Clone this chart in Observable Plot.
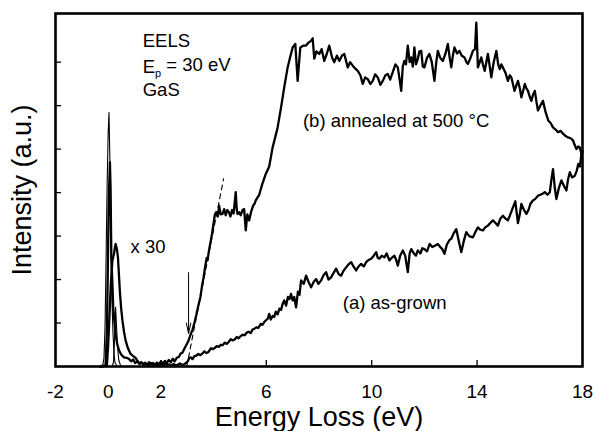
<!DOCTYPE html>
<html><head><meta charset="utf-8">
<script src="https://cdn.jsdelivr.net/npm/d3@7"></script>
<script src="https://cdn.jsdelivr.net/npm/@observablehq/plot@0.6"></script>
<style>body{margin:0;background:#fff}</style>
</head><body><div id="chart"></div>
<script>
// ---- data ----
const xTickLabels = [-2, 0, 2, 6, 10, 14, 18];
const xTickMarks = [2, 6, 10, 14];
const yTickMarks = [1, 2, 3, 4, 5, 6, 7];

// (b) annealed at 500 °C (low-energy part x30)
const annealedEnergy = [-0.3,-0.1,-0.05,-0.02,0.02,0.065,0.09,0.12,0.16,0.19,0.24,0.28,0.34,0.41,0.5,0.6,0.7,0.79,0.88,0.95,1.02,1.1,1.18,1.25,1.32,1.4,1.48,1.55,1.62,1.7,1.78,1.85,1.92,2.0,2.08,2.15,2.22,2.3,2.38,2.45,2.52,2.6,2.68,2.75,2.82,2.9,2.97,3.05,3.12,3.2,3.27,3.35,3.42,3.5,3.56,3.62,3.68,3.74,3.77,3.82,3.88,3.94,4.0,4.05,
4.1,4.16,4.21,4.27,4.34,4.4,4.46,4.52,4.58,4.64,4.7,4.76,4.84,4.88,4.91,4.97,5.03,5.1,5.16,5.22,5.28,5.35,5.42,5.5,5.56,5.6,5.73,5.85,5.98,6.11,6.24,6.35,6.43,6.56,6.68,6.81,6.9,7.0,7.1,7.19,7.29,7.4,7.5,7.6,7.7,7.76,7.82,7.9,8.01,8.1,8.2,8.3,8.39,8.5,8.58,8.68,8.77,8.87,8.96,9.09,9.18,9.28,9.38,9.47,9.57,9.66,9.75,9.85,9.95,10.04,10.13,10.23,10.33,10.42,10.52,10.61,10.7,10.8,10.9,10.99,11.06,11.12,11.18,11.24,11.3,11.37,11.44,11.5,11.56,11.62,11.68,11.75,11.81,11.88,11.94,12.0,12.1,12.19,12.28,12.38,12.45,12.51,12.6,12.7,12.8,12.89,12.96,13.02,13.08,13.14,13.24,13.33,13.42,13.52,13.6,13.65,13.75,13.84,13.92,13.97,14.03,14.1,14.16,14.22,14.29,14.35,14.41,14.48,14.54,14.63,14.73,14.8,14.86,14.92,14.98,15.08,15.17,15.24,15.3,15.36,15.42,15.48,15.55,15.62,15.68,15.75,15.81,15.87,15.93,16.0,16.06,16.12,16.19,16.25,16.31,16.4,16.5,16.6,16.7,16.79,16.88,16.98,17.07,17.17,17.27,17.36,17.45,17.55,17.64,17.7,17.77,17.84,17.9,17.96,18.0];
const annealedIntensity = [0,0.02,0.8,2.0,3.8,4.7,4.1,2.5,1.9,1.36,1.0,0.75,0.52,0.37,0.27,0.21,0.2,0.17,0.12,0.16,0.08,0.12,0.06,0.1,0.05,0.09,0.04,0.1,0.06,0.08,0.04,0.09,0.05,0.12,0.07,0.13,0.08,0.15,0.1,0.18,0.12,0.2,0.22,0.3,0.32,0.42,0.5,0.6,0.72,0.85,1.0,1.2,1.4,1.6,1.85,2.05,2.3,2.5,2.44,2.65,2.85,3.05,3.3,3.5,
3.55,3.45,3.7,3.5,3.51,3.62,3.48,3.6,3.55,3.45,3.6,3.52,4.01,3.6,3.51,3.55,3.48,3.6,3.62,3.13,3.5,3.36,3.55,3.7,3.75,3.82,3.95,4.2,4.43,4.6,5.04,5.3,5.5,5.96,6.42,6.88,7.1,7.34,7.42,6.57,7.34,7.38,7.38,7.45,7.49,7.55,7.08,7.25,7.19,7.3,7.03,7.2,7.38,7.1,7.0,7.15,7.03,7.15,7.19,6.88,7.0,6.92,6.85,6.8,6.7,6.5,6.65,6.61,6.5,6.57,6.72,6.65,6.48,6.57,6.7,6.73,6.6,6.77,6.95,6.88,6.6,6.34,6.9,7.03,6.95,7.38,7.0,7.11,6.9,7.34,6.95,7.07,7.25,7.26,6.9,6.88,7.1,7.19,7.0,6.57,7.0,7.26,7.1,7.03,7.2,7.42,7.1,6.88,7.15,7.34,7.2,7.26,7.15,7.11,7.0,6.96,7.1,7.26,7.3,7.91,6.88,7.0,7.11,6.95,6.8,7.0,7.19,6.9,6.65,7.0,7.26,6.95,6.84,6.95,6.88,6.75,6.57,6.7,6.65,6.5,6.34,6.45,6.57,6.4,6.19,6.35,6.5,6.4,6.34,6.2,6.11,6.25,6.34,6.1,5.89,6.0,6.11,5.85,5.66,5.6,5.5,5.45,5.39,5.42,5.35,5.3,5.27,5.25,5.2,5.1,5.0,5.06,5.04,4.89,4.95];

// (a) as-grown (low-energy part x30)
const asGrownEnergy = [-0.3,-0.05,0.0,0.05,0.1,0.16,0.22,0.28,0.33,0.37,0.44,0.49,0.54,0.6,0.66,0.75,0.85,0.95,1.04,1.12,1.2,1.28,1.35,1.43,1.5,1.58,1.65,1.72,1.8,1.88,1.95,2.03,2.1,2.18,2.25,2.33,2.4,2.48,2.56,2.64,2.72,2.8,2.88,2.95,3.02,3.08,3.13,3.2,3.27,3.35,3.42,3.5,3.58,3.65,3.72,3.8,3.9,3.98,4.05,4.12,4.2,4.27,4.35,4.42,4.5,4.58,4.65,4.72,4.8,4.88,4.95,5.03,5.1,5.18,5.26,5.33,5.41,5.48,5.55,5.62,5.7,5.79,5.86,5.93,6.0,6.06,6.11,6.17,6.24,6.3,6.36,6.43,6.5,6.56,6.62,6.68,6.75,6.82,6.88,6.94,7.0,7.06,7.13,7.2,7.26,7.32,7.42,7.51,7.6,7.7,7.8,7.89,7.98,8.08,8.17,8.27,8.36,8.46,8.55,8.65,8.75,8.84,8.93,9.03,9.12,9.22,9.31,9.41,9.5,9.6,9.7,9.79,9.88,9.98,10.08,10.17,10.23,10.29,10.38,10.48,10.57,10.67,10.76,10.86,10.93,10.99,11.08,11.18,11.27,11.37,11.44,11.5,11.6,11.68,11.75,11.85,11.92,12.0,12.1,12.2,12.3,12.4,12.51,12.6,12.68,12.76,12.85,12.94,13.02,13.1,13.21,13.3,13.4,13.5,13.59,13.7,13.84,13.94,14.03,14.12,14.22,14.31,14.41,14.5,14.6,14.7,14.79,14.88,14.98,15.08,15.17,15.26,15.36,15.45,15.55,15.62,15.68,15.78,15.87,15.95,16.03,16.12,16.2,16.31,16.4,16.5,16.57,16.67,16.76,16.82,16.88,16.95,17.01,17.1,17.2,17.3,17.39,17.45,17.52,17.6,17.71,17.78,17.84,17.9,17.96,18.0];
const asGrownIntensity = [0,0.02,0.5,1.2,1.9,2.44,2.6,2.82,2.7,2.51,1.75,1.35,1.06,0.8,0.6,0.42,0.29,0.24,0.2,0.12,0.06,0.09,0.04,0.06,0.03,0.04,0.07,0.03,0.05,0.02,0.06,0.05,0.03,0.07,0.04,0.05,0.02,0.06,0.03,0.04,0.07,0.04,0.05,0.08,0.12,0.2,0.21,0.17,0.24,0.25,0.29,0.26,0.3,0.35,0.31,0.33,0.42,0.4,0.43,0.47,0.45,0.5,0.49,0.55,0.52,0.57,0.63,0.6,0.62,0.68,0.65,0.7,0.73,0.72,0.78,0.8,0.77,0.85,0.87,0.9,0.89,0.98,0.96,1.03,1.07,1.1,1.21,1.08,1.16,1.14,1.26,1.2,1.33,1.3,1.44,1.52,1.4,1.6,1.55,1.67,1.52,1.6,1.36,1.72,1.65,1.98,1.9,2.09,1.95,1.82,1.95,2.01,1.9,1.98,2.1,2.17,2.0,2.05,2.15,2.25,2.12,2.09,2.2,2.28,2.35,2.4,2.3,2.21,2.3,2.36,2.3,2.4,2.45,2.48,2.55,2.63,2.5,2.48,2.55,2.51,2.6,2.44,2.5,2.55,2.45,2.32,2.55,2.67,2.55,2.17,2.6,2.7,2.6,2.55,2.67,2.6,2.72,2.7,2.65,2.82,2.75,2.78,2.82,2.75,2.7,2.59,2.8,2.9,2.94,3.05,3.16,2.9,2.63,2.9,3.09,3.0,2.97,3.1,3.2,3.15,3.13,3.2,3.24,3.3,3.36,3.3,3.24,3.4,3.47,3.4,3.36,3.5,3.66,3.8,3.3,3.5,3.74,3.6,3.51,3.6,3.75,3.82,3.85,3.93,3.95,3.98,4.01,3.95,4.01,4.3,4.54,4.1,3.85,4.1,4.28,4.15,4.05,4.3,4.47,4.35,4.39,4.5,4.66,4.6,4.89,4.95];

// elastic (zero-loss) peaks, unscaled
const elasticEnergyB = [-0.3,-0.2,-0.16,-0.12,-0.08,-0.04,0.0,0.03,0.06,0.1,0.14,0.18,0.22,0.26,0.35];
const elasticIntensityB = [0,0.05,0.2,0.9,2.5,4.2,5.4,5.84,4.9,3.0,1.6,0.8,0.3,0.08,0];
const elasticEnergyA = [0.15,0.2,0.24,0.28,0.31,0.35,0.4,0.48];
const elasticIntensityA = [0,0.1,0.6,1.36,1.0,0.5,0.15,0];

// onset tangent and arrow
const tangentEnergy = [2.98, 4.38];
const tangentIntensity = [0, 4.32];
const arrowEnergy = 3.05, arrowFrom = 2.16, arrowTo = 0.76;

// ---- build ----
const rows = (xs, ys) => xs.map((x, i) => ({x, y: ys[i]}));
const FONT = "'Liberation Sans', Arial, Helvetica, sans-serif";

const chart = Plot.plot({
  width: 593, height: 431,
  marginLeft: 55, marginRight: 11, marginTop: 13, marginBottom: 65,
  style: {fontFamily: FONT, background: "#fff", color: "#000"},
  x: {domain: [-2, 18]},
  y: {domain: [0, 8.12]},
  marks: [
    Plot.line(rows(annealedEnergy, annealedIntensity), {x: "x", y: "y", stroke: "#000", strokeWidth: 2.3}),
    Plot.line(rows(asGrownEnergy, asGrownIntensity), {x: "x", y: "y", stroke: "#000", strokeWidth: 2.3}),
    Plot.line(rows(elasticEnergyB, elasticIntensityB), {x: "x", y: "y", stroke: "#000", strokeWidth: 1.1}),
    Plot.line(rows(elasticEnergyA, elasticIntensityA), {x: "x", y: "y", stroke: "#000", strokeWidth: 1.1}),
    Plot.line(rows(tangentEnergy, tangentIntensity), {x: "x", y: "y", stroke: "#000", strokeWidth: 1.1, strokeDasharray: "5,4"}),
    Plot.arrow([{e: arrowEnergy, a: arrowFrom, b: arrowTo}], {x1: "e", x2: "e", y1: "a", y2: "b", stroke: "#000", strokeWidth: 1, headLength: 16, headAngle: 24}),
    Plot.frame({stroke: "#000", strokeWidth: 2.6}),
    Plot.axisX({ticks: xTickMarks, tickSize: -6, tickFormat: () => "", label: null, strokeWidth: 1.3}),
    Plot.axisX({ticks: xTickLabels, tickSize: 0, tickPadding: 18, fontSize: 19, label: null, tickFormat: d => String(d)}),
    Plot.axisY({ticks: yTickMarks, tickSize: -6, tickFormat: () => "", label: null, strokeWidth: 1.3}),
    Plot.text(["Energy Loss (eV)"], {frameAnchor: "bottom", dy: 51, fontSize: 27, lineAnchor: "middle", textAnchor: "middle"}),
    Plot.text(["Intensity (a.u.)"], {frameAnchor: "left", dx: -33, rotate: -90, fontSize: 27, lineAnchor: "middle", textAnchor: "middle"}),
    Plot.text(["EELS"], {x: 1.31, y: 7.34, textAnchor: "start", lineAnchor: "bottom", fontSize: 18.5}),
    Plot.text(["Ep = 30 eV"], {x: 1.31, y: 6.74, textAnchor: "start", lineAnchor: "bottom", fontSize: 18.5, className: "ep"}),
    Plot.text(["GaS"], {x: 1.31, y: 6.23, textAnchor: "start", lineAnchor: "bottom", fontSize: 18.5}),
    Plot.text(["x 30"], {x: 0.85, y: 2.6, textAnchor: "start", lineAnchor: "bottom", fontSize: 18.5}),
    Plot.text(["(b) annealed at 500 °C"], {x: 7.39, y: 5.5, textAnchor: "start", lineAnchor: "bottom", fontSize: 18.5}),
    Plot.text(["(a) as-grown"], {x: 8.9, y: 1.33, textAnchor: "start", lineAnchor: "bottom", fontSize: 18.5})
  ]
});
document.getElementById("chart").appendChild(chart);

// subscript p in "Ep"
d3.select(chart).selectAll("g.ep text").each(function() {
  const t = d3.select(this);
  t.text("");
  t.append("tspan").text("E");
  t.append("tspan").attr("dy", "0.3em").attr("font-size", "11").text("p");
  t.append("tspan").attr("dy", "-0.3em").text(" = 30 eV");
});
</script></body></html>
